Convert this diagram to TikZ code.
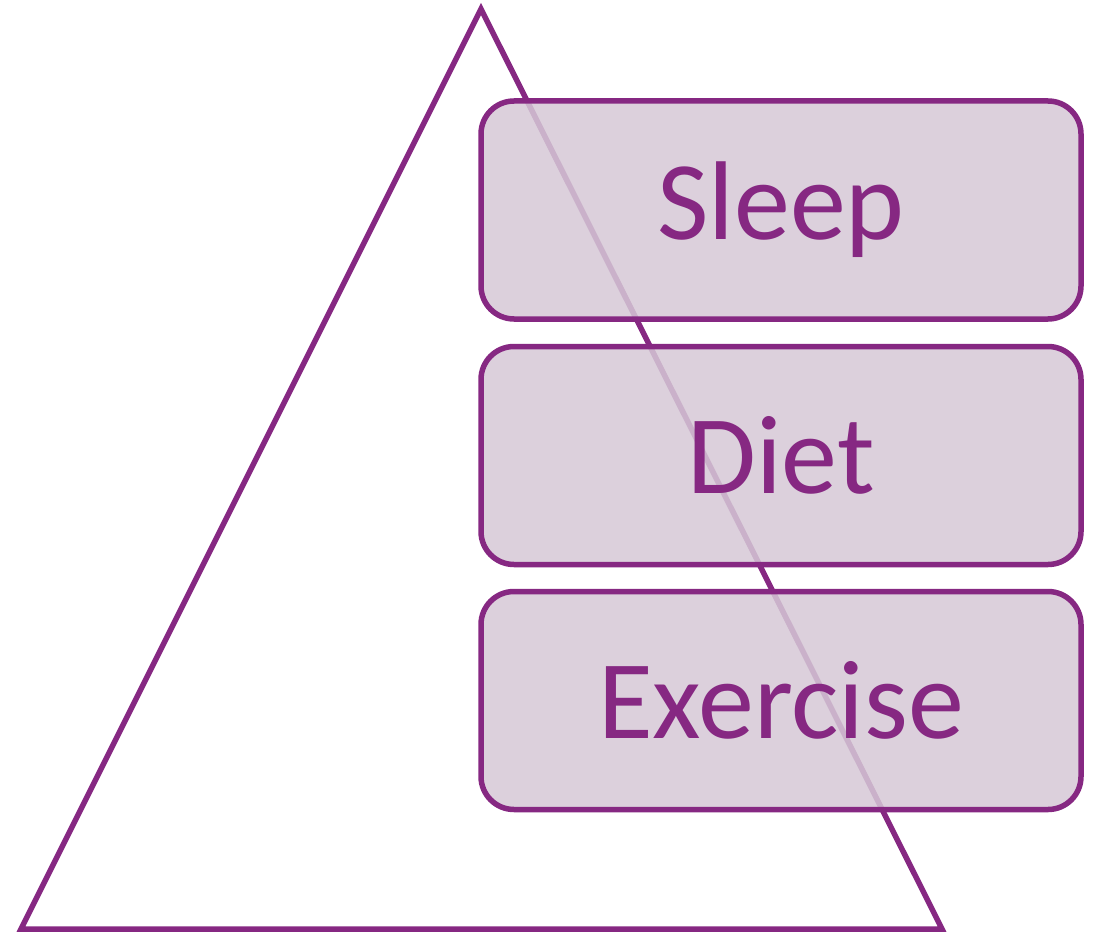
\documentclass[tikz,border=0pt]{standalone}
\usepackage{fontspec}
\setmainfont{Carlito}
\definecolor{plum}{HTML}{862882}
\definecolor{lilac}{HTML}{D6C8D6}
\begin{document}
\begin{tikzpicture}[x=1pt, y=-1pt, pyramid style/.style={draw=plum, line width=5.5pt, line join=miter}, box style/.style={rectangle, draw=plum, line width=5.5pt, rounded corners=33pt, fill=lilac, fill opacity=0.86, text opacity=1, text=plum, minimum width=600pt, minimum height=218pt, inner sep=0pt, font=\fontsize{112}{114}\selectfont}]
	\useasboundingbox (0,0) rectangle (1094,933);
	\coordinate (P1) at (481, 9);
	\coordinate (P2) at (21, 929);
	\coordinate (P3) at (942, 929);
	\draw[pyramid style] (P1) -- (P2) -- (P3) -- cycle;
	\node[box style] (B1) at (781, 210) {Sleep};
	\node[box style] (B2) at (781, 455.5) {Diet};
	\node[box style] (B3) at (781, 700.5) {Exercise};
\end{tikzpicture}
\end{document}
